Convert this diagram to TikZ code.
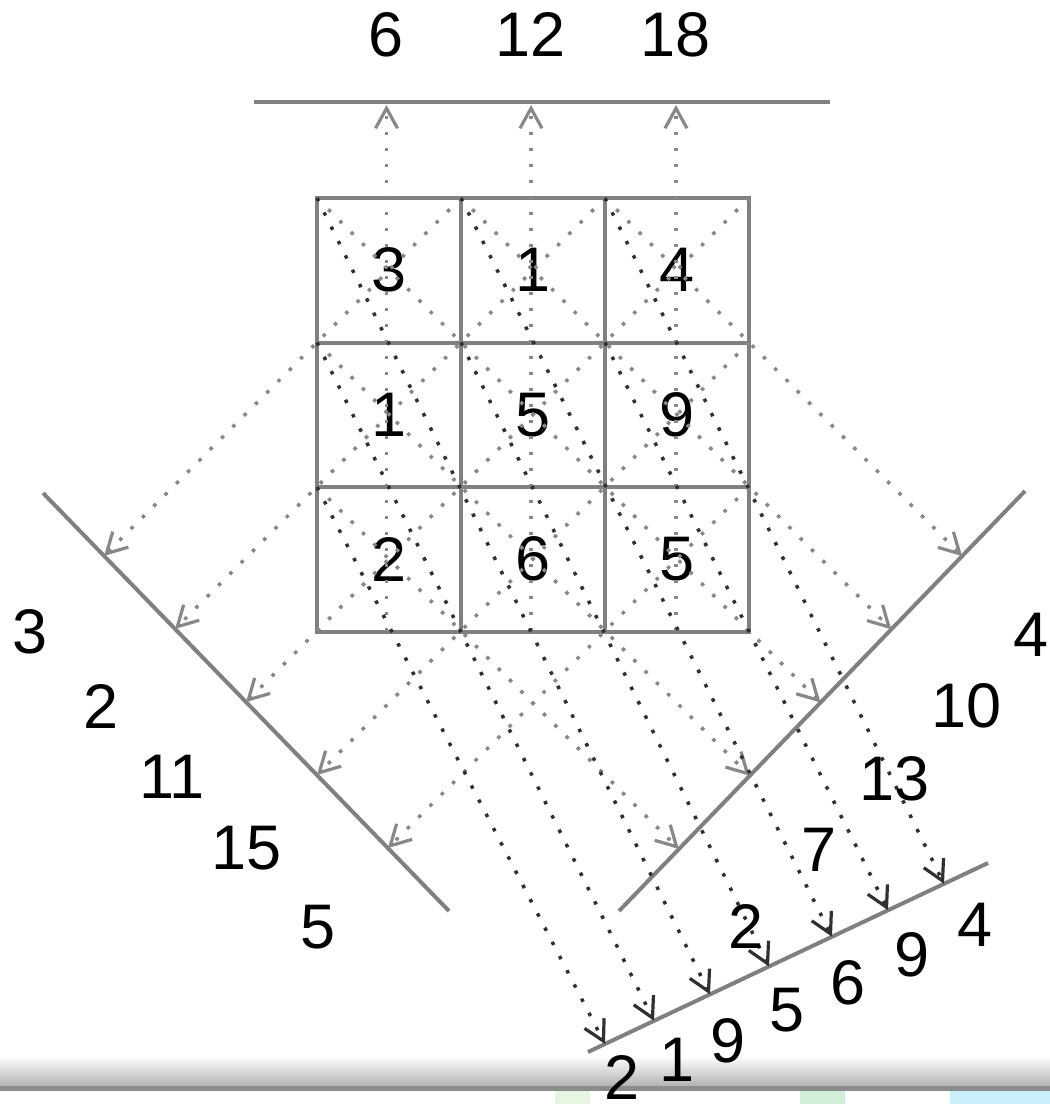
\documentclass[tikz,border=0pt]{standalone}
\usepackage{fontspec}
\setmainfont{Liberation Sans}
\usetikzlibrary{arrows.meta}
\definecolor{linegray}{HTML}{808080}
\definecolor{dotgray}{HTML}{888888}
\definecolor{dotdark}{HTML}{303030}
\newcommand\bignumfont{\fontsize{63}{75}\selectfont}
\begin{document}
\begin{tikzpicture}[x=1pt,y=-1pt,
  axisline/.style={draw=linegray, line width=4pt},
  cellbox/.style={draw=linegray, line width=4pt, minimum width=144pt, minimum height=144.5pt, inner sep=0pt, outer sep=0pt, font=\bignumfont},
  num/.style={inner sep=0pt, font=\bignumfont},
  gproj/.style={draw=dotgray, line width=3.5pt, dash pattern=on 3.5pt off 12.5pt, -{Straight Barb[length=20pt,width=22pt,line width=3.2pt]}},
  dproj/.style={draw=dotdark, line width=3.5pt, dash pattern=on 3.5pt off 12.5pt, -{Straight Barb[length=20pt,width=22pt,line width=3.2pt]}}
]
\useasboundingbox (0,0) rectangle (1050,1104);
% bottom band (screen artefact)
\fill[white] (0,1040) rectangle (1050,1056);
\shade[top color=white, bottom color=black!30] (0,1056) rectangle (1050,1086);
\fill[black!45] (0,1086) rectangle (1050,1091);
\fill[yellow!20!green!12] (555,1091) rectangle (590,1104);
\fill[cyan!15!green!18] (800,1091) rectangle (845,1104);
\fill[cyan!20] (950,1091) rectangle (1050,1104);

% grid cells
\node[cellbox] (c11) at (389,270.25) {3};
\node[cellbox] (c12) at (533,270.25) {1};
\node[cellbox] (c13) at (677,270.25) {4};
\node[cellbox] (c21) at (389,414.75) {1};
\node[cellbox] (c22) at (533,414.75) {5};
\node[cellbox] (c23) at (677,414.75) {9};
\node[cellbox] (c31) at (389,559.25) {2};
\node[cellbox] (c32) at (533,559.25) {6};
\node[cellbox] (c33) at (677,559.25) {5};

% projection axes
\coordinate (TL) at (254,102);  \coordinate (TR) at (830,102);
\coordinate (LA) at (43,493);   \coordinate (LB) at (449,911);
\coordinate (RA) at (619,911);  \coordinate (RB) at (1025,491);
\coordinate (BA) at (588,1052); \coordinate (BB) at (988,863);
\draw[axisline] (TL) -- (TR);
\draw[axisline] (LA) -- (LB);
\draw[axisline] (RA) -- (RB);
\draw[axisline] (BA) -- (BB);

% arrow tips
\coordinate (T1) at (386.5,105); \coordinate (T2) at (531,105); \coordinate (T3) at (676,105);
\coordinate (S1) at (386.5,631); \coordinate (S2) at (531,631); \coordinate (S3) at (676,631);
\coordinate (L1) at (104.1,555.9); \coordinate (L2) at (175.0,629.0); \coordinate (L3) at (246.0,702.1);
\coordinate (L4) at (316.9,775.0); \coordinate (L5) at (387.9,848.1);
\coordinate (R1) at (962.1,556.1); \coordinate (R2) at (891.3,629.3); \coordinate (R3) at (820.5,702.5);
\coordinate (R4) at (749.7,775.8); \coordinate (R5) at (678.9,849.0);
\coordinate (B1) at (605,1044); \coordinate (B2) at (654,1020.8); \coordinate (B3) at (710,994.4);
\coordinate (B4) at (769,966.5); \coordinate (B5) at (832,936.7); \coordinate (B6) at (888,910.2);
\coordinate (B7) at (944,883.8);

% vertical projections
\draw[gproj] (S1) -- (T1);
\draw[gproj] (S2) -- (T2);
\draw[gproj] (S3) -- (T3);
% anti-diagonal projections (to the left axis)
\draw[gproj] (c11.north east) -- (L1);
\draw[gproj] (c12.north east) -- (L2);
\draw[gproj] (c13.north east) -- (L3);
\draw[gproj] (c23.north east) -- (L4);
\draw[gproj] (c33.north east) -- (L5);
% diagonal projections (to the right axis)
\draw[gproj] (c13.north west) -- (R1);
\draw[gproj] (c12.north west) -- (R2);
\draw[gproj] (c11.north west) -- (R3);
\draw[gproj] (c21.north west) -- (R4);
\draw[gproj] (c31.north west) -- (R5);
% steep projections (to the bottom axis)
\draw[dproj] (c31.north west) -- (B1);
\draw[dproj] (c21.north west) -- (B2);
\draw[dproj] (c11.north west) -- (B3);
\draw[dproj] (c22.north west) -- (B4);
\draw[dproj] (c12.north west) -- (B5);
\draw[dproj] (c23.north west) -- (B6);
\draw[dproj] (c13.north west) -- (B7);

% sums: top
\node[num] (t1) at (386,35) {6};
\node[num] (t2) at (531,35) {12};
\node[num] (t3) at (676,35) {18};
% sums: left
\node[num] (l1) at (30,632) {3};
\node[num] (l2) at (101,706) {2};
\node[num] (l3) at (172,777) {11};
\node[num] (l4) at (247,848) {15};
\node[num] (l5) at (318,927) {5};
% sums: right
\node[num] (r1) at (1031,635) {4};
\node[num] (r2) at (967,706) {10};
\node[num] (r3) at (895,779) {13};
\node[num] (r4) at (819,850) {7};
\node[num] (r5) at (746,926) {2};
% sums: bottom
\node[num] (b1) at (622,1077) {2};
\node[num] (b2) at (677,1060) {1};
\node[num] (b3) at (728,1041) {9};
\node[num] (b4) at (787,1010) {5};
\node[num] (b5) at (848,983) {6};
\node[num] (b6) at (912,955) {9};
\node[num] (b7) at (975,925) {4};
\end{tikzpicture}
\end{document}
